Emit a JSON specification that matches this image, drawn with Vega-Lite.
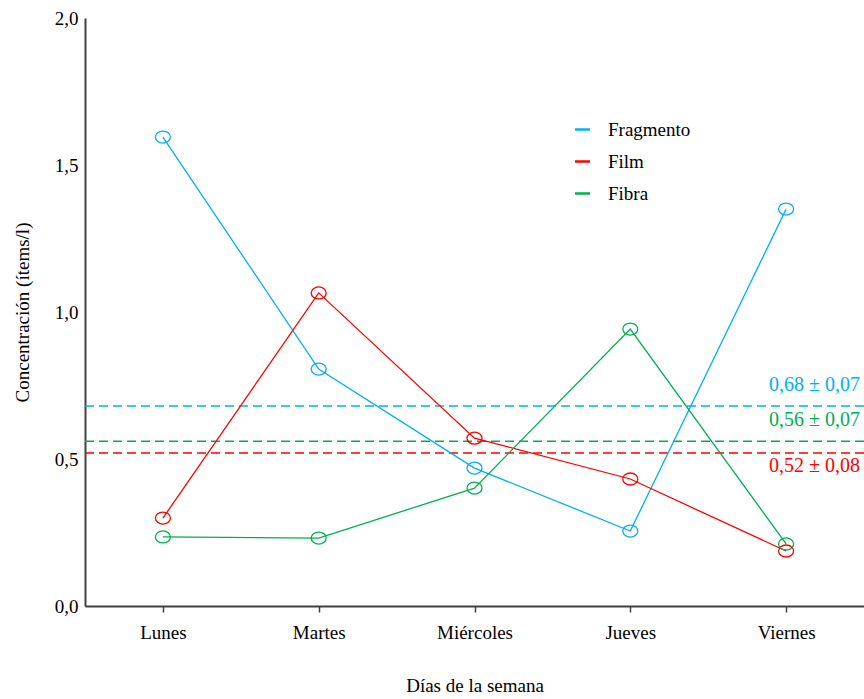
{
  "$schema": "https://vega.github.io/schema/vega-lite/v6.json",
  "width": 779,
  "height": 588,
  "autosize": "none",
  "padding": {"left": 85, "top": 18, "right": 0, "bottom": 93},
  "background": "white",
  "config": {
    "view": {"stroke": null},
    "font": "'Liberation Serif', serif",
    "text": {"font": "'Liberation Serif', serif"},
    "axis": {
      "grid": false,
      "domainColor": "#404040",
      "domainWidth": 2,
      "tickColor": "#404040",
      "tickWidth": 1.5,
      "labelColor": "#000000",
      "titleColor": "#000000",
      "labelFont": "'Liberation Serif', serif",
      "titleFont": "'Liberation Serif', serif",
      "labelFontSize": 19,
      "titleFontSize": 19,
      "titleFontWeight": "normal"
    },
    "legend": {
      "labelFont": "'Liberation Serif', serif",
      "labelFontSize": 19,
      "labelColor": "#000000",
      "symbolType": "stroke"
    }
  },
  "datasets": {
    "valores": [
      {"dia": "Lunes", "tipo": "Fragmento", "concentracion": 1.595},
      {"dia": "Martes", "tipo": "Fragmento", "concentracion": 0.806},
      {"dia": "Miércoles", "tipo": "Fragmento", "concentracion": 0.469},
      {"dia": "Jueves", "tipo": "Fragmento", "concentracion": 0.255},
      {"dia": "Viernes", "tipo": "Fragmento", "concentracion": 1.35},
      {"dia": "Lunes", "tipo": "Film", "concentracion": 0.299},
      {"dia": "Martes", "tipo": "Film", "concentracion": 1.065},
      {"dia": "Miércoles", "tipo": "Film", "concentracion": 0.571},
      {"dia": "Jueves", "tipo": "Film", "concentracion": 0.432},
      {"dia": "Viernes", "tipo": "Film", "concentracion": 0.187},
      {"dia": "Lunes", "tipo": "Fibra", "concentracion": 0.235},
      {"dia": "Martes", "tipo": "Fibra", "concentracion": 0.231},
      {"dia": "Miércoles", "tipo": "Fibra", "concentracion": 0.401},
      {"dia": "Jueves", "tipo": "Fibra", "concentracion": 0.942},
      {"dia": "Viernes", "tipo": "Fibra", "concentracion": 0.211}
    ],
    "medias": [
      {"tipo": "Fragmento", "media": 0.68, "etiqueta": "0,68 ± 0,07"},
      {"tipo": "Film", "media": 0.52, "etiqueta": "0,52 ± 0,08"},
      {"tipo": "Fibra", "media": 0.56, "etiqueta": "0,56 ± 0,07"}
    ]
  },
  "layer": [
    {
      "data": {"name": "medias"},
      "mark": {"type": "rule", "strokeDash": [9, 5], "strokeWidth": 1.5},
      "encoding": {
        "y": {"field": "media", "type": "quantitative"},
        "color": {"field": "tipo", "type": "nominal"}
      }
    },
    {
      "data": {"name": "medias"},
      "transform": [{"filter": "datum.tipo !== 'Film'"}],
      "mark": {"type": "text", "align": "right", "baseline": "middle", "dx": -4, "dy": -21, "fontSize": 20, "font": "'Liberation Serif', serif"},
      "encoding": {
        "x": {"value": "width"},
        "y": {"field": "media", "type": "quantitative"},
        "text": {"field": "etiqueta"},
        "color": {"field": "tipo", "type": "nominal"}
      }
    },
    {
      "data": {"name": "medias"},
      "transform": [{"filter": "datum.tipo === 'Film'"}],
      "mark": {"type": "text", "align": "right", "baseline": "middle", "dx": -4, "dy": 13, "fontSize": 20, "font": "'Liberation Serif', serif"},
      "encoding": {
        "x": {"value": "width"},
        "y": {"field": "media", "type": "quantitative"},
        "text": {"field": "etiqueta"},
        "color": {"field": "tipo", "type": "nominal"}
      }
    },
    {
      "data": {"name": "valores"},
      "mark": {"type": "line", "strokeWidth": 1.3},
      "encoding": {
        "x": {
          "field": "dia",
          "type": "nominal",
          "sort": ["Lunes", "Martes", "Miércoles", "Jueves", "Viernes"],
          "scale": {"type": "point", "padding": 0.5},
          "axis": {
            "title": "Días  de  la  semana",
            "labelAngle": 0,
            "ticks": true,
            "tickSize": 6,
            "labelPadding": 11,
            "titlePadding": 34
          }
        },
        "y": {
          "field": "concentracion",
          "type": "quantitative",
          "scale": {"domain": [0, 2], "nice": false, "zero": true},
          "axis": {
            "title": "Concentración  (ítems/l)",
            "values": [0, 0.5, 1, 1.5, 2],
            "labelExpr": "replace(format(datum.value, '.1f'), '.', ',')",
            "ticks": false,
            "labelPadding": 7,
            "titlePadding": 22
          }
        },
        "color": {
          "field": "tipo",
          "type": "nominal",
          "scale": {
            "domain": ["Fragmento", "Film", "Fibra"],
            "range": ["#00B0F0", "#FF0000", "#00B050"]
          },
          "legend": {
            "title": null,
            "orient": "none",
            "legendX": 488,
            "legendY": 102,
            "symbolType": "stroke",
            "symbolStrokeWidth": 2.5,
            "symbolSize": 225,
            "labelOffset": 16,
            "rowPadding": 12
          }
        },
        "detail": {"field": "tipo"}
      }
    },
    {
      "data": {"name": "valores"},
      "mark": {
        "type": "point",
        "filled": false,
        "strokeWidth": 1.3,
        "size": 225,
        "opacity": 1,
        "shape": "M-1,0A1,0.8 0 1,1 1,0A1,0.8 0 1,1 -1,0Z"
      },
      "encoding": {
        "x": {"field": "dia", "type": "nominal", "sort": ["Lunes", "Martes", "Miércoles", "Jueves", "Viernes"]},
        "y": {"field": "concentracion", "type": "quantitative"},
        "color": {"field": "tipo", "type": "nominal"}
      }
    }
  ]
}
